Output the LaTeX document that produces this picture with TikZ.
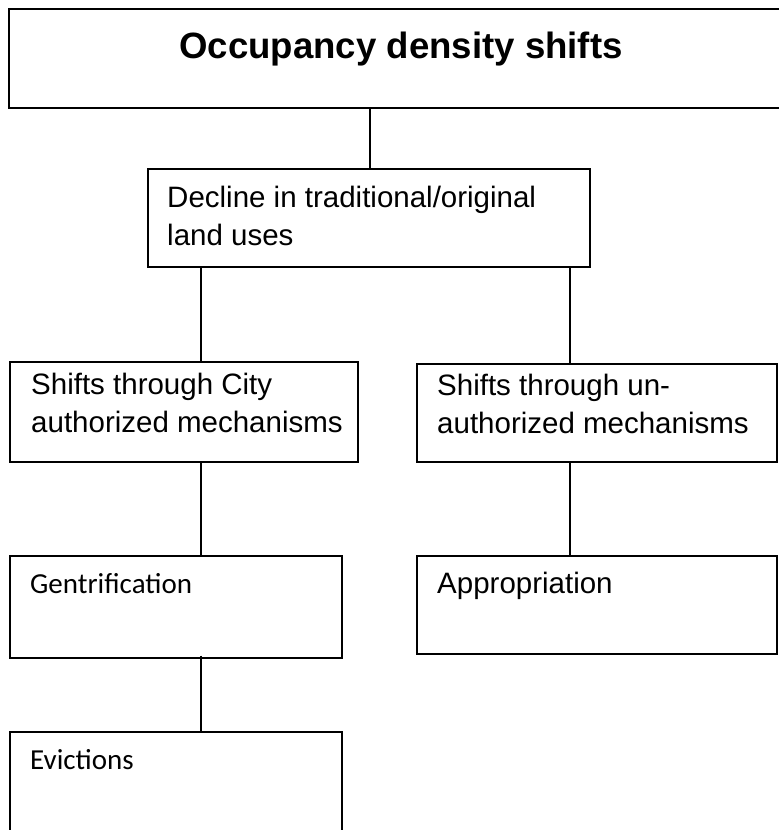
\documentclass[tikz,border=0pt]{standalone}
\usepackage{fontspec}
\setmainfont{Liberation Sans}
\newfontfamily\calibri{Carlito}
\begin{document}
\begin{tikzpicture}[x=1pt,y=-1pt,
  box/.style={draw, line width=1.5pt, rectangle, inner sep=0pt, anchor=north west},
  link/.style={line width=1.3pt},
  txt/.style={inner sep=0pt, anchor=north west, align=left, font=\fontsize{29.5}{38}\selectfont},
  ctxt/.style={inner sep=0pt, anchor=north west, align=left, font=\calibri\fontsize{29}{38}\selectfont},
  ttl/.style={inner sep=0pt, anchor=base, font=\bfseries\fontsize{36.6}{40}\selectfont}
]
\useasboundingbox (0,0) rectangle (779,830);
\begin{scope}
\clip (0,0) rectangle (779,830);
% boxes
\node[box, minimum width=800, minimum height=99] (top) at (8,8) {};
\node[box, minimum width=442, minimum height=98] (dec) at (147,168) {};
\node[box, minimum width=348, minimum height=100] (city) at (9,361) {};
\node[box, minimum width=360, minimum height=98] (unauth) at (416,363) {};
\node[box, minimum width=332, minimum height=102] (gent) at (9,555) {};
\node[box, minimum width=360, minimum height=98] (appr) at (416,555) {};
\node[box, minimum width=332, minimum height=120] (evic) at (9,731) {};
% texts
\node[ttl] (ttltext) at (401,58) {Occupancy density shifts};
\node[txt] (dectext) at (167,180.4) {\strut Decline in traditional/original\\land uses};
\node[txt] (citytext) at (31,367.4) {\strut Shifts through City\\authorized mechanisms};
\node[txt] (unauthtext) at (437,368.4) {\strut Shifts through un-\\authorized mechanisms};
\node[ctxt] (genttext) at (30,566.4) {\strut Gentrification};
\node[txt] (apprtext) at (437,566.4) {\strut Appropriation};
\node[ctxt] (evictext) at (30,742.4) {\strut Evictions};
% connector columns
\coordinate (cL) at (201,0);
\coordinate (cR) at (570,0);
\coordinate (cT) at (370,0);
\draw[link] (top.south -| cT) -- (dec.north -| cT);
\draw[link] (dec.south -| cL) -- (city.north -| cL);
\draw[link] (dec.south -| cR) -- (unauth.north -| cR);
\draw[link] (city.south -| cL) -- (gent.north -| cL);
\draw[link] (unauth.south -| cR) -- (appr.north -| cR);
\draw[link] ([yshift=3pt]gent.south -| cL) -- (evic.north -| cL);
\end{scope}
\end{tikzpicture}
\end{document}
